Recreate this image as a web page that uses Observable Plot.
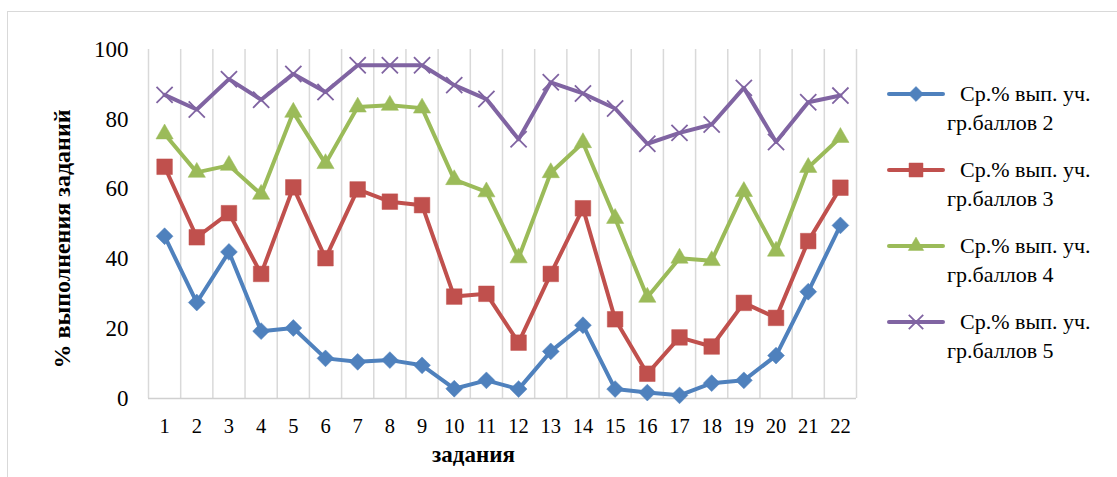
<!DOCTYPE html>
<html>
<head>
<meta charset="utf-8">
<script src="https://cdn.jsdelivr.net/npm/d3@7"></script>
<script src="https://cdn.jsdelivr.net/npm/@observablehq/plot@0.6"></script>
<style>
  html, body { margin: 0; padding: 0; background: #fff; }
  #wrap { position: relative; width: 1117px; height: 477px; overflow: hidden; font-family: "Liberation Serif", "DejaVu Serif", serif; }
  #frame { position: absolute; left: 7px; top: 11px; width: 1200px; height: 600px; border: 1.5px solid #d9d9d9; box-sizing: border-box; }
  #chart { position: absolute; left: 0; top: 0; }
  #legend { position: absolute; left: 0; top: 0; }
</style>
</head>
<body>
<div id="wrap"><div id="frame"></div><div id="chart"></div><svg id="legend" width="1117" height="477"></svg></div>
<script>
// ---- data ----
const tasks = [1, 2, 3, 4, 5, 6, 7, 8, 9, 10, 11, 12, 13, 14, 15, 16, 17, 18, 19, 20, 21, 22];
const seriesNames = [
  "Ср.% вып. уч. гр.баллов 2",
  "Ср.% вып. уч. гр.баллов 3",
  "Ср.% вып. уч. гр.баллов 4",
  "Ср.% вып. уч. гр.баллов 5"
];
const legendLine1 = "Ср.% вып. уч.";
const legendLine2 = ["гр.баллов 2", "гр.баллов 3", "гр.баллов 4", "гр.баллов 5"];
const group2 = [46.5, 27.5, 42, 19.3, 20.2, 11.5, 10.5, 11, 9.5, 2.8, 5.2, 2.7, 13.5, 21, 2.7, 1.7, 0.9, 4.4, 5.2, 12.3, 30.6, 49.6];
const group3 = [66.4, 46.2, 53.1, 35.7, 60.5, 40.2, 59.9, 56.4, 55.4, 29.2, 30, 16, 35.7, 54.5, 22.7, 7.1, 17.5, 14.9, 27.4, 23.1, 45.1, 60.4];
const group4 = [75.8, 64.8, 66.8, 58.5, 82, 67.3, 83.5, 84, 83.2, 62.7, 59.2, 40.3, 64.7, 73.3, 51.6, 29, 40.2, 39.5, 59.3, 42.2, 66.2, 74.8];
const group5 = [87, 82.8, 91.5, 85.6, 93, 87.8, 95.5, 95.5, 95.5, 89.8, 85.8, 74.3, 90.6, 87.4, 83.1, 73, 76.1, 78.5, 89, 73.5, 84.9, 86.8];
const yTicks = [0, 20, 40, 60, 80, 100];
const xTitle = "задания";
const yTitle = "% выполнения заданий";

const colors = ["#4f81bd", "#c0504d", "#9bbb59", "#8064a2"];
const symbols = ["diamond2", "square", "triangle", "times"];
const radii = [7.6, 8.8, 6.4, 7.4];
const serif = "'Liberation Serif', 'DejaVu Serif', serif";

const allValues = [group2, group3, group4, group5];
const rows = [];
allValues.forEach((vals, si) => vals.forEach((v, i) => rows.push({ task: tasks[i], value: v, series: seriesNames[si] })));

const bounds = tasks.map(t => t - 0.5).concat([tasks[tasks.length - 1] + 0.5]);

const seriesMarks = [];
seriesNames.forEach((name, si) => {
  const d = rows.filter(r => r.series === name);
  seriesMarks.push(Plot.line(d, { x: "task", y: "value", stroke: colors[si], strokeWidth: 4, strokeLinejoin: "round", strokeLinecap: "round" }));
  const isStroke = symbols[si] === "times";
  seriesMarks.push(Plot.dot(d, {
    x: "task", y: "value", symbol: () => symbols[si], r: radii[si],
    fill: isStroke ? "none" : colors[si],
    stroke: colors[si], strokeWidth: isStroke ? 1.8 : 0.5
  }));
});

const chart = Plot.plot({
  width: 1117,
  height: 477,
  marginLeft: 148,
  marginRight: 261,
  marginTop: 49,
  marginBottom: 79,
  style: { fontFamily: serif, fontSize: "20px", background: "transparent", color: "#000", overflow: "visible" },
  x: { domain: [bounds[0], bounds[bounds.length - 1]], label: null },
  y: { domain: [0, 100], label: null },
  symbol: { type: "identity" },
  marks: [
    Plot.ruleX(bounds, { stroke: "#d9d9d9", strokeWidth: 1.5 }),
    Plot.ruleY([0], { stroke: "#d0d0d0", strokeWidth: 1.5 }),
    Plot.axisX({ ticks: tasks, tickFormat: d => String(d), tickSize: 0, tickPadding: 20, fontSize: 20.5, label: null }),
    Plot.axisY({ ticks: yTicks, tickFormat: d => String(d), tickSize: 0, tickPadding: 20, fontSize: 23, label: null }),
    Plot.text([xTitle], { frameAnchor: "bottom", dy: 63, dx: -29, fontWeight: "bold", fontSize: 23, fontFamily: serif }),
    Plot.text([yTitle], { frameAnchor: "left", textAnchor: "middle", dx: -86, dy: 15, rotate: -90, fontWeight: "bold", fontSize: 24, fontFamily: serif }),
    ...seriesMarks
  ]
});
document.getElementById("chart").appendChild(chart);

// ---- legend ----
const lg = d3.select("#legend").style("font-family", serif);
const legendTop = 94, legendStep = 76;
const symMap = { diamond2: d3.symbolDiamond2, square: d3.symbolSquare, triangle: d3.symbolTriangle, times: d3.symbolTimes };
seriesNames.forEach((name, si) => {
  const y = legendTop + si * legendStep;
  const g = lg.append("g");
  g.append("line").attr("x1", 889).attr("x2", 943).attr("y1", y).attr("y2", y)
    .attr("stroke", colors[si]).attr("stroke-width", 4).attr("stroke-linecap", "round");
  const isStroke = symbols[si] === "times";
  g.append("path").attr("transform", `translate(916,${y})`)
    .attr("d", d3.symbol(symMap[symbols[si]], Math.PI * radii[si] * radii[si] * 0.8)())
    .attr("fill", isStroke ? "none" : colors[si])
    .attr("stroke", colors[si]).attr("stroke-width", isStroke ? 1.8 : 0.5);
  g.append("text").attr("x", 960).attr("y", y + 7).attr("font-size", 22).text(legendLine1);
  g.append("text").attr("x", 947).attr("y", y + 36).attr("font-size", 22).text(legendLine2[si]);
});
</script>
</body>
</html>
